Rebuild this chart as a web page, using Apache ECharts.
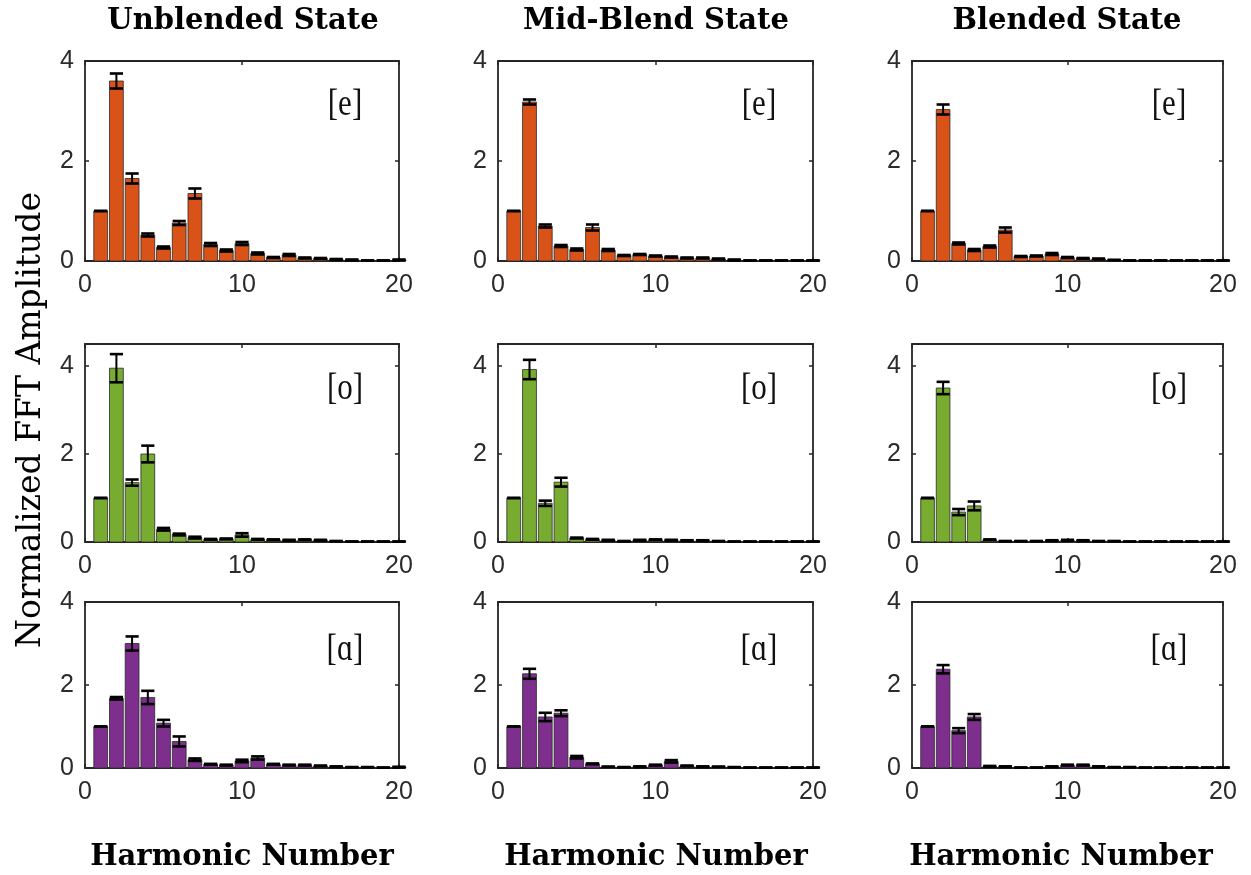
<!DOCTYPE html>
<html>
<head>
<meta charset="utf-8">
<title>Normalized FFT Amplitude by Harmonic</title>
<script src="https://cdn.jsdelivr.net/npm/echarts@6/dist/echarts.min.js"></script>
<style>
  html, body { margin: 0; padding: 0; background: #ffffff; }
  #chart { width: 1251px; height: 875px; }
</style>
</head>
<body>
<div id="chart"></div>
<script>
// Harmonic numbers on the x axis
const harmonics = [1, 2, 3, 4, 5, 6, 7, 8, 9, 10, 11, 12, 13, 14, 15, 16, 17, 18, 19, 20];
const xTickLabels = [0, 10, 20];
const columnTitles = ['Unblended State', 'Mid-Blend State', 'Blended State'];
const vowelLabels = ['[e]', '[o]', '[ɑ]'];
const vowelColors = ['#D95319', '#77AC30', '#7E2F8E'];
const rowYMax = [4, 4.5, 4];

// Mean normalized amplitudes and error half-widths, one pair per panel
const eUnblended    = [1.00, 3.60, 1.65, 0.52, 0.27, 0.76, 1.35, 0.33, 0.21, 0.35, 0.15, 0.07, 0.12, 0.06, 0.05, 0.03, 0.02, 0.01, 0.01, 0.02];
const eUnblendedErr = [0.00, 0.15, 0.10, 0.03, 0.02, 0.04, 0.10, 0.03, 0.02, 0.03, 0.02, 0.01, 0.02, 0.01, 0.01, 0.01, 0.01, 0.00, 0.00, 0.01];
const eMid          = [1.00, 3.18, 0.70, 0.30, 0.23, 0.67, 0.22, 0.11, 0.13, 0.10, 0.08, 0.06, 0.06, 0.04, 0.02, 0.01, 0.01, 0.01, 0.01, 0.01];
const eMidErr       = [0.00, 0.05, 0.03, 0.02, 0.02, 0.06, 0.02, 0.01, 0.01, 0.01, 0.01, 0.01, 0.01, 0.01, 0.01, 0.00, 0.00, 0.00, 0.00, 0.00];
const eBlended      = [1.00, 3.03, 0.35, 0.22, 0.29, 0.62, 0.09, 0.10, 0.14, 0.07, 0.05, 0.04, 0.02, 0.01, 0.01, 0.01, 0.01, 0.01, 0.01, 0.01];
const eBlendedErr   = [0.00, 0.10, 0.02, 0.02, 0.02, 0.05, 0.01, 0.01, 0.02, 0.01, 0.01, 0.01, 0.00, 0.00, 0.00, 0.00, 0.00, 0.00, 0.00, 0.00];

const oUnblended    = [1.00, 3.95, 1.35, 2.00, 0.29, 0.17, 0.10, 0.06, 0.07, 0.16, 0.06, 0.05, 0.04, 0.05, 0.04, 0.02, 0.01, 0.01, 0.01, 0.01];
const oUnblendedErr = [0.00, 0.32, 0.07, 0.19, 0.03, 0.02, 0.02, 0.01, 0.01, 0.04, 0.01, 0.01, 0.01, 0.01, 0.01, 0.00, 0.00, 0.00, 0.00, 0.00];
const oMid          = [1.00, 3.92, 0.88, 1.36, 0.09, 0.06, 0.04, 0.02, 0.04, 0.05, 0.04, 0.03, 0.03, 0.02, 0.01, 0.01, 0.01, 0.01, 0.01, 0.01];
const oMidErr       = [0.00, 0.22, 0.06, 0.10, 0.01, 0.01, 0.01, 0.00, 0.01, 0.01, 0.01, 0.01, 0.01, 0.00, 0.00, 0.00, 0.00, 0.00, 0.00, 0.00];
const oBlended      = [1.00, 3.50, 0.68, 0.82, 0.05, 0.02, 0.02, 0.02, 0.03, 0.04, 0.03, 0.02, 0.02, 0.01, 0.01, 0.01, 0.01, 0.01, 0.01, 0.01];
const oBlendedErr   = [0.00, 0.14, 0.07, 0.10, 0.01, 0.00, 0.00, 0.00, 0.01, 0.01, 0.01, 0.00, 0.00, 0.00, 0.00, 0.00, 0.00, 0.00, 0.00, 0.00];

const aUnblended    = [1.00, 1.68, 3.00, 1.70, 1.08, 0.64, 0.20, 0.09, 0.07, 0.17, 0.24, 0.09, 0.07, 0.07, 0.05, 0.03, 0.02, 0.02, 0.01, 0.02];
const aUnblendedErr = [0.00, 0.03, 0.17, 0.16, 0.08, 0.12, 0.03, 0.01, 0.01, 0.03, 0.04, 0.01, 0.01, 0.01, 0.01, 0.01, 0.00, 0.00, 0.00, 0.01];
const aMid          = [1.00, 2.27, 1.23, 1.32, 0.26, 0.10, 0.03, 0.02, 0.03, 0.07, 0.16, 0.05, 0.03, 0.03, 0.02, 0.01, 0.01, 0.01, 0.01, 0.01];
const aMidErr       = [0.00, 0.12, 0.10, 0.07, 0.03, 0.01, 0.00, 0.00, 0.01, 0.01, 0.03, 0.01, 0.01, 0.00, 0.00, 0.00, 0.00, 0.00, 0.00, 0.00];
const aBlended      = [1.00, 2.38, 0.90, 1.23, 0.04, 0.03, 0.01, 0.01, 0.03, 0.07, 0.07, 0.03, 0.02, 0.02, 0.01, 0.01, 0.01, 0.01, 0.01, 0.01];
const aBlendedErr   = [0.00, 0.10, 0.06, 0.07, 0.01, 0.01, 0.00, 0.00, 0.01, 0.01, 0.01, 0.01, 0.00, 0.00, 0.00, 0.00, 0.00, 0.00, 0.00, 0.00];

// panels[row][col] = [means, errors]
const panels = [
  [[eUnblended, eUnblendedErr], [eMid, eMidErr], [eBlended, eBlendedErr]],
  [[oUnblended, oUnblendedErr], [oMid, oMidErr], [oBlended, oBlendedErr]],
  [[aUnblended, aUnblendedErr], [aMid, aMidErr], [aBlended, aBlendedErr]]
];

// Layout of the 3x3 grid of axes (pixels)
const colLeft = [85, 498, 912];
const colWidth = [314, 315, 311];
const rowTop = [61, 344, 602];
const rowHeight = [200, 198, 166];

const AXIS_COLOR = '#262626';
const LABEL_COLOR = '#2b2b2b';
const tickFont = { fontFamily: 'Liberation Sans', fontSize: 25, color: LABEL_COLOR };

const grids = [], xAxes = [], yAxes = [], series = [], graphics = [];

function barRenderer(color) {
  return function (params, api) {
    const x = api.value(0), v = api.value(1), e = api.value(2);
    const halfBar = 0.44;
    const tl = api.coord([x - halfBar, v]);
    const br = api.coord([x + halfBar, 0]);
    const cx = api.coord([x, 0])[0];
    const yTop = api.coord([x, v + e])[1];
    const yBot = api.coord([x, Math.max(v - e, 0)])[1];
    const capHalf = api.size([0.42, 0])[0];
    return {
      type: 'group',
      children: [
        { type: 'rect', shape: { x: tl[0], y: tl[1], width: br[0] - tl[0], height: br[1] - tl[1] },
          style: { fill: color, stroke: '#2a2a2a', lineWidth: 0.8 } },
        { type: 'line', shape: { x1: cx, y1: yTop, x2: cx, y2: yBot },
          style: { stroke: '#000000', lineWidth: 2 } },
        { type: 'line', shape: { x1: cx - capHalf, y1: yTop, x2: cx + capHalf, y2: yTop },
          style: { stroke: '#000000', lineWidth: 2.6 } },
        { type: 'line', shape: { x1: cx - capHalf, y1: yBot, x2: cx + capHalf, y2: yBot },
          style: { stroke: '#000000', lineWidth: 2.6 } }
      ]
    };
  };
}

for (let r = 0; r < 3; r++) {
  for (let c = 0; c < 3; c++) {
    const gi = grids.length;
    grids.push({ left: colLeft[c], top: rowTop[r], width: colWidth[c], height: rowHeight[r], show: false });

    const axisLine = { show: true, onZero: false, lineStyle: { color: AXIS_COLOR, width: 1.8 } };
    const axisTick = { show: true, inside: true, length: 4, lineStyle: { color: AXIS_COLOR, width: 1.5 } };

    // bottom and top x axes (box + inward ticks)
    xAxes.push({
      gridIndex: gi, type: 'value', position: 'bottom', min: xTickLabels[0], max: xTickLabels[2], interval: 10,
      axisLine, axisTick, splitLine: { show: false },
      axisLabel: Object.assign({ margin: 12 }, tickFont)
    });
    xAxes.push({
      gridIndex: gi, type: 'value', position: 'top', min: xTickLabels[0], max: xTickLabels[2], interval: 10,
      axisLine, axisTick, splitLine: { show: false }, axisLabel: { show: false }
    });
    // left and right y axes
    yAxes.push({
      gridIndex: gi, type: 'value', position: 'left', min: 0, max: rowYMax[r], interval: 2,
      axisLine, axisTick, splitLine: { show: false },
      axisLabel: Object.assign({ margin: 11, formatter: v => (v % 2 === 0 ? String(v) : '') }, tickFont)
    });
    yAxes.push({
      gridIndex: gi, type: 'value', position: 'right', min: 0, max: rowYMax[r], interval: 2,
      axisLine, axisTick, splitLine: { show: false }, axisLabel: { show: false }
    });

    const [means, errs] = panels[r][c];
    series.push({
      type: 'custom',
      xAxisIndex: gi * 2,
      yAxisIndex: gi * 2,
      renderItem: barRenderer(vowelColors[r]),
      encode: { x: 0, y: 1 },
      data: harmonics.map((h, k) => [h, means[k], errs[k]]),
      silent: true
    });

    // vowel label in the upper right of each panel
    graphics.push({
      type: 'text',
      x: colLeft[c] + colWidth[c] - 54,
      y: rowTop[r] + [44, 45, 48][r],
      scaleY: 1.25,
      style: {
        text: vowelLabels[r], fill: '#111111',
        font: '31px "Liberation Serif"',
        align: 'center', verticalAlign: 'middle',
        textAlign: 'center', textVerticalAlign: 'middle'
      }
    });
  }
}

// column headings and shared axis titles
const colCenters = [243, 656, 1067];
columnTitles.forEach((t, c) => {
  graphics.push({
    type: 'text', x: colCenters[c], y: 21,
    style: { text: t, fill: '#000000', font: 'bold 29px "DejaVu Serif"',
      align: 'center', verticalAlign: 'middle', textAlign: 'center', textVerticalAlign: 'middle' }
  });
  graphics.push({
    type: 'text', x: [242, 656, 1061][c], y: 857,
    style: { text: 'Harmonic Number', fill: '#000000', font: 'bold 29px "DejaVu Serif"',
      align: 'center', verticalAlign: 'middle', textAlign: 'center', textVerticalAlign: 'middle' }
  });
});
graphics.push({
  type: 'text', x: 31, y: 420, rotation: Math.PI / 2,
  style: { text: 'Normalized FFT Amplitude', fill: '#000000', font: '33px "DejaVu Serif"',
    align: 'center', verticalAlign: 'middle', textAlign: 'center', textVerticalAlign: 'middle' }
});

const chart = echarts.init(document.getElementById('chart'), null, { renderer: 'canvas' });
chart.setOption({
  animation: false,
  backgroundColor: '#ffffff',
  grid: grids,
  xAxis: xAxes,
  yAxis: yAxes,
  series: series,
  graphic: { elements: graphics }
});
</script>
</body>
</html>
